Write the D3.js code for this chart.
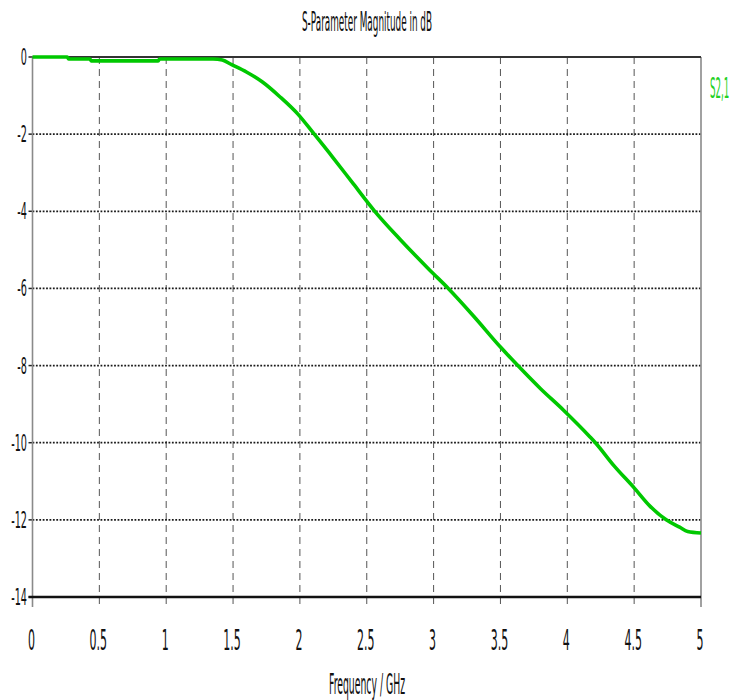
<!DOCTYPE html>
<html>
<head>
<meta charset="utf-8">
<script src="https://cdn.jsdelivr.net/npm/d3@7"></script>
<style>
  html, body { margin: 0; padding: 0; background: #fff; }
  svg { display: block; }
</style>
</head>
<body>
<svg id="chart" width="734" height="700"></svg>
<script>
// S2,1 transmission magnitude versus frequency
const freqGHz = [0, 0.26, 0.27, 0.43, 0.44, 0.94, 0.95, 1.35, 1.42, 1.49, 1.60, 1.72, 1.85, 1.99,
                 2.10, 2.25, 2.40, 2.56, 2.75, 2.97, 3.11, 3.30, 3.50, 3.63, 3.80, 3.97, 4.17,
                 4.21, 4.35, 4.50, 4.62, 4.74, 4.84, 4.90, 5.00];
const s21dB   = [0, 0, -0.05, -0.05, -0.1, -0.1, -0.05, -0.05, -0.08, -0.2, -0.39, -0.65, -1.03, -1.5,
                 -1.97, -2.62, -3.29, -4.0, -4.73, -5.52, -6.0, -6.72, -7.52, -8.0, -8.6, -9.15, -9.85,
                 -10.0, -10.6, -11.17, -11.65, -12.0, -12.19, -12.3, -12.34];

const xTicks = [0, 0.5, 1, 1.5, 2, 2.5, 3, 3.5, 4, 4.5, 5];
const xTickLabels = ["0", "0.5", "1", "1.5", "2", "2.5", "3", "3.5", "4", "4.5", "5"];
const yTicks = [0, -2, -4, -6, -8, -10, -12, -14];
const yTickLabels = ["0", "-2", "-4", "-6", "-8", "-10", "-12", "-14"];

const seriesName = "S2,1";
const chartTitle = "S-Parameter Magnitude in dB";
const xTitle = "Frequency / GHz";

const svg = d3.select("#chart");
const FONT = "DejaVu Sans, sans-serif";

const x = d3.scaleLinear().domain([0, 5]).range([32.5, 701]);
const y = d3.scaleLinear().domain([-14, 0]).range([597, 57]);
const plotBottomExt = 607;

// vertical dashed grid (continues below the bottom rule as tick marks)
svg.append("g").selectAll("line")
  .data(xTicks.filter(d => d > 0 && d < 5))
  .join("line")
  .attr("x1", d => x(d)).attr("x2", d => x(d))
  .attr("y1", y(0)).attr("y2", plotBottomExt)
  .attr("stroke", "#555").attr("stroke-width", 1)
  .attr("stroke-dasharray", "7,5");

// horizontal dotted grid
svg.append("g").selectAll("line")
  .data(yTicks.filter(d => d < 0 && d > -14))
  .join("line")
  .attr("x1", x(0)).attr("x2", x(5))
  .attr("y1", d => y(d)).attr("y2", d => y(d))
  .attr("stroke", "#1a1a1a").attr("stroke-width", 1.8)
  .attr("stroke-dasharray", "1.8,1.6");

// small ticks left of the value axis
svg.append("g").selectAll("line")
  .data(yTicks)
  .join("line")
  .attr("x1", x(0) - 4).attr("x2", x(0))
  .attr("y1", d => y(d)).attr("y2", d => y(d))
  .attr("stroke", "#222").attr("stroke-width", 1.5);

// side frame lines
svg.append("line")
  .attr("x1", x(0)).attr("x2", x(0)).attr("y1", y(0)).attr("y2", plotBottomExt)
  .attr("stroke", "#8a8a8a").attr("stroke-width", 1.6);
svg.append("line")
  .attr("x1", x(5)).attr("x2", x(5)).attr("y1", y(0)).attr("y2", plotBottomExt)
  .attr("stroke", "#8a8a8a").attr("stroke-width", 1.6);

// solid rules at 0 dB and -14 dB
svg.append("line")
  .attr("x1", x(0)).attr("x2", x(5)).attr("y1", y(0)).attr("y2", y(0))
  .attr("stroke", "#333").attr("stroke-width", 2.2);
svg.append("line")
  .attr("x1", x(0) - 4).attr("x2", x(5)).attr("y1", y(-14)).attr("y2", y(-14))
  .attr("stroke", "#111").attr("stroke-width", 2.6);

// data curve
const line = d3.line()
  .x((d, i) => x(freqGHz[i]))
  .y(d => y(d))
  .curve(d3.curveMonotoneX);

svg.append("path")
  .datum(s21dB)
  .attr("d", line)
  .attr("fill", "none")
  .attr("stroke", "#00c800")
  .attr("stroke-width", 3.6)
  .attr("stroke-linejoin", "round");

// value-axis labels (narrow lettering)
svg.append("g").selectAll("text")
  .data(yTicks)
  .join("text")
  .attr("transform", d => `translate(27,${y(d) + 8}) scale(0.42,1)`)
  .attr("text-anchor", "end")
  .attr("font-family", FONT)
  .attr("font-size", 23)
  .attr("fill", "#111")
  .text((d, i) => yTickLabels[i]);

// frequency-axis labels
svg.append("g").selectAll("text")
  .data(xTicks)
  .join("text")
  .attr("transform", d => `translate(${x(d) - 1},650) scale(0.38,1)`)
  .attr("text-anchor", "middle")
  .attr("font-family", FONT)
  .attr("font-size", 29)
  .attr("fill", "#111")
  .text((d, i) => xTickLabels[i]);

// title
svg.append("text")
  .attr("x", 367).attr("y", 31)
  .attr("text-anchor", "middle")
  .attr("font-family", FONT)
  .attr("font-size", 27)
  .attr("textLength", 130)
  .attr("lengthAdjust", "spacingAndGlyphs")
  .attr("fill", "#111")
  .text(chartTitle);

// axis title
svg.append("text")
  .attr("x", 367).attr("y", 694)
  .attr("text-anchor", "middle")
  .attr("font-family", FONT)
  .attr("font-size", 29)
  .attr("textLength", 76)
  .attr("lengthAdjust", "spacingAndGlyphs")
  .attr("fill", "#111")
  .text(xTitle);

// series label, squeezed horizontally like the other lettering
svg.append("text")
  .attr("transform", "translate(710,98) scale(0.3,1)")
  .attr("font-family", FONT)
  .attr("font-size", 29)
  .attr("fill", "#22d022")
  .text(seriesName);
</script>
</body>
</html>
